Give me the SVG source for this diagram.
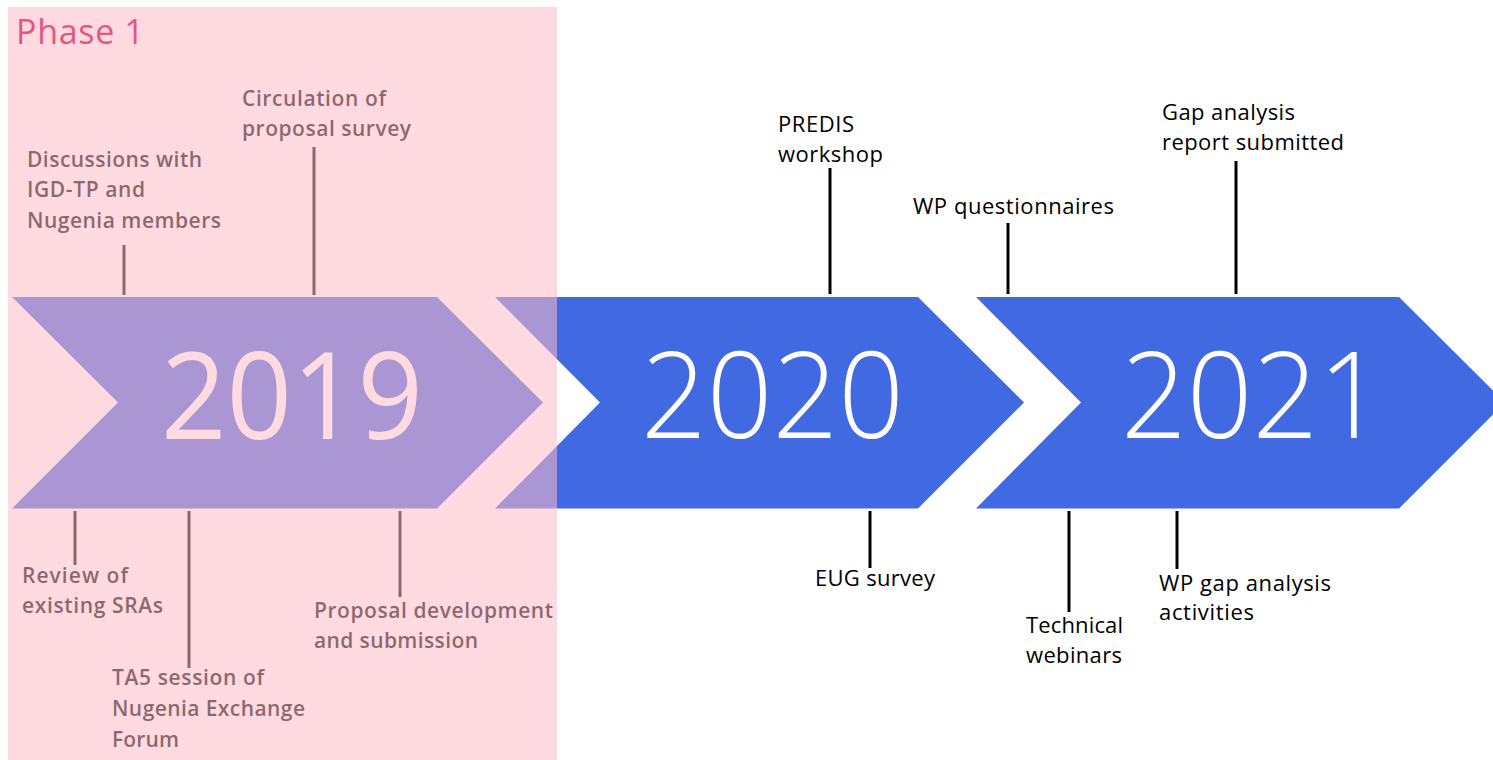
<svg xmlns="http://www.w3.org/2000/svg" width="1493" height="760" viewBox="0 0 1493 760">
  <style>
    .arrow { fill: #4169E1; }
    .year { font-family: "Open Sans", "Liberation Sans", sans-serif; font-size: 120px; fill: #FFFFFF; }
    .thin { font-weight: 300; }
    .lbl { font-family: "Open Sans", "Liberation Sans", sans-serif; font-size: 22px; fill: #000000; }
    .plbl { font-family: "Open Sans", "Liberation Sans", sans-serif; font-size: 21px; font-weight: 600; fill: #000000; }
    .tick { stroke: #000000; stroke-width: 3; fill: none; }
    .phase { fill: #FFBCC8; opacity: 0.55; }
    .phasetitle { font-family: "Open Sans", "Liberation Sans", sans-serif; font-size: 34px; fill: #E8557F; }
  </style>
  <rect x="0" y="0" width="1493" height="760" fill="#FFFFFF"/>

  <g id="year-2019">
    <polygon class="arrow" points="12,297 437,297 543,402.5 437,508.5 12,508.5 118,402.5"/>
    <text class="year" x="161" y="439" textLength="262" lengthAdjust="spacingAndGlyphs">2019</text>
  </g>
  <g id="year-2020">
    <polygon class="arrow" points="495,297 918,297 1024,402.5 918,508.5 495,508.5 600,402.5"/>
    <text class="year thin" x="641" y="438" textLength="263" lengthAdjust="spacingAndGlyphs">2020</text>
  </g>
  <g id="year-2021">
    <polygon class="arrow" points="976,297 1399,297 1505,402.5 1399,508.5 976,508.5 1081,402.5"/>
    <text class="year thin" x="1121" y="438" textLength="263" lengthAdjust="spacingAndGlyphs">2021</text>
  </g>

  <g id="connectors">
    <line class="tick" x1="124" y1="245" x2="124" y2="295"/>
    <line class="tick" x1="314" y1="147" x2="314" y2="295"/>
    <line class="tick" x1="75" y1="511" x2="75" y2="565"/>
    <line class="tick" x1="189" y1="511" x2="189" y2="668"/>
    <line class="tick" x1="400" y1="511" x2="400" y2="597"/>
    <line class="tick" x1="830" y1="168" x2="830" y2="294"/>
    <line class="tick" x1="1008" y1="223" x2="1008" y2="294"/>
    <line class="tick" x1="1236" y1="161" x2="1236" y2="294"/>
    <line class="tick" x1="870" y1="511" x2="870" y2="568"/>
    <line class="tick" x1="1069" y1="511" x2="1069" y2="612"/>
    <line class="tick" x1="1177" y1="511" x2="1177" y2="569"/>
  </g>

  <g id="m-discussions">
    <text class="plbl" x="27" y="167" textLength="175">Discussions with</text>
    <text class="plbl" x="27" y="197" textLength="118">IGD-TP and</text>
    <text class="plbl" x="27" y="227.5" textLength="194">Nugenia members</text>
  </g>
  <g id="m-circulation">
    <text class="plbl" x="242" y="106" textLength="144">Circulation of</text>
    <text class="plbl" x="242" y="136" textLength="169">proposal survey</text>
  </g>
  <g id="m-review">
    <text class="plbl" x="22" y="583" textLength="106">Review of</text>
    <text class="plbl" x="22" y="613" textLength="141">existing SRAs</text>
  </g>
  <g id="m-ta5">
    <text class="plbl" x="112" y="685" textLength="152">TA5 session of</text>
    <text class="plbl" x="112" y="716" textLength="193">Nugenia Exchange</text>
    <text class="plbl" x="112" y="747" textLength="67">Forum</text>
  </g>
  <g id="m-proposal">
    <text class="plbl" x="314" y="618" textLength="239">Proposal development</text>
    <text class="plbl" x="314" y="648" textLength="164">and submission</text>
  </g>

  <g id="m-predis">
    <text class="lbl" x="778" y="132" textLength="76">PREDIS</text>
    <text class="lbl" x="778" y="162" textLength="105">workshop</text>
  </g>
  <g id="m-wpq">
    <text class="lbl" x="913" y="214" textLength="201">WP questionnaires</text>
  </g>
  <g id="m-gap">
    <text class="lbl" x="1162" y="120" textLength="133">Gap analysis</text>
    <text class="lbl" x="1162" y="150" textLength="182">report submitted</text>
  </g>
  <g id="m-eug">
    <text class="lbl" x="815" y="586" textLength="120">EUG survey</text>
  </g>
  <g id="m-webinars">
    <text class="lbl" x="1026" y="633" textLength="97">Technical</text>
    <text class="lbl" x="1026" y="663" textLength="96">webinars</text>
  </g>
  <g id="m-wpgap">
    <text class="lbl" x="1159" y="591" textLength="172">WP gap analysis</text>
    <text class="lbl" x="1159" y="620" textLength="95">activities</text>
  </g>

  <g id="phase-1">
    <rect class="phase" x="8" y="7" width="549" height="753"/>
    <text class="phasetitle" x="16" y="44" textLength="128">Phase 1</text>
  </g>
</svg>
